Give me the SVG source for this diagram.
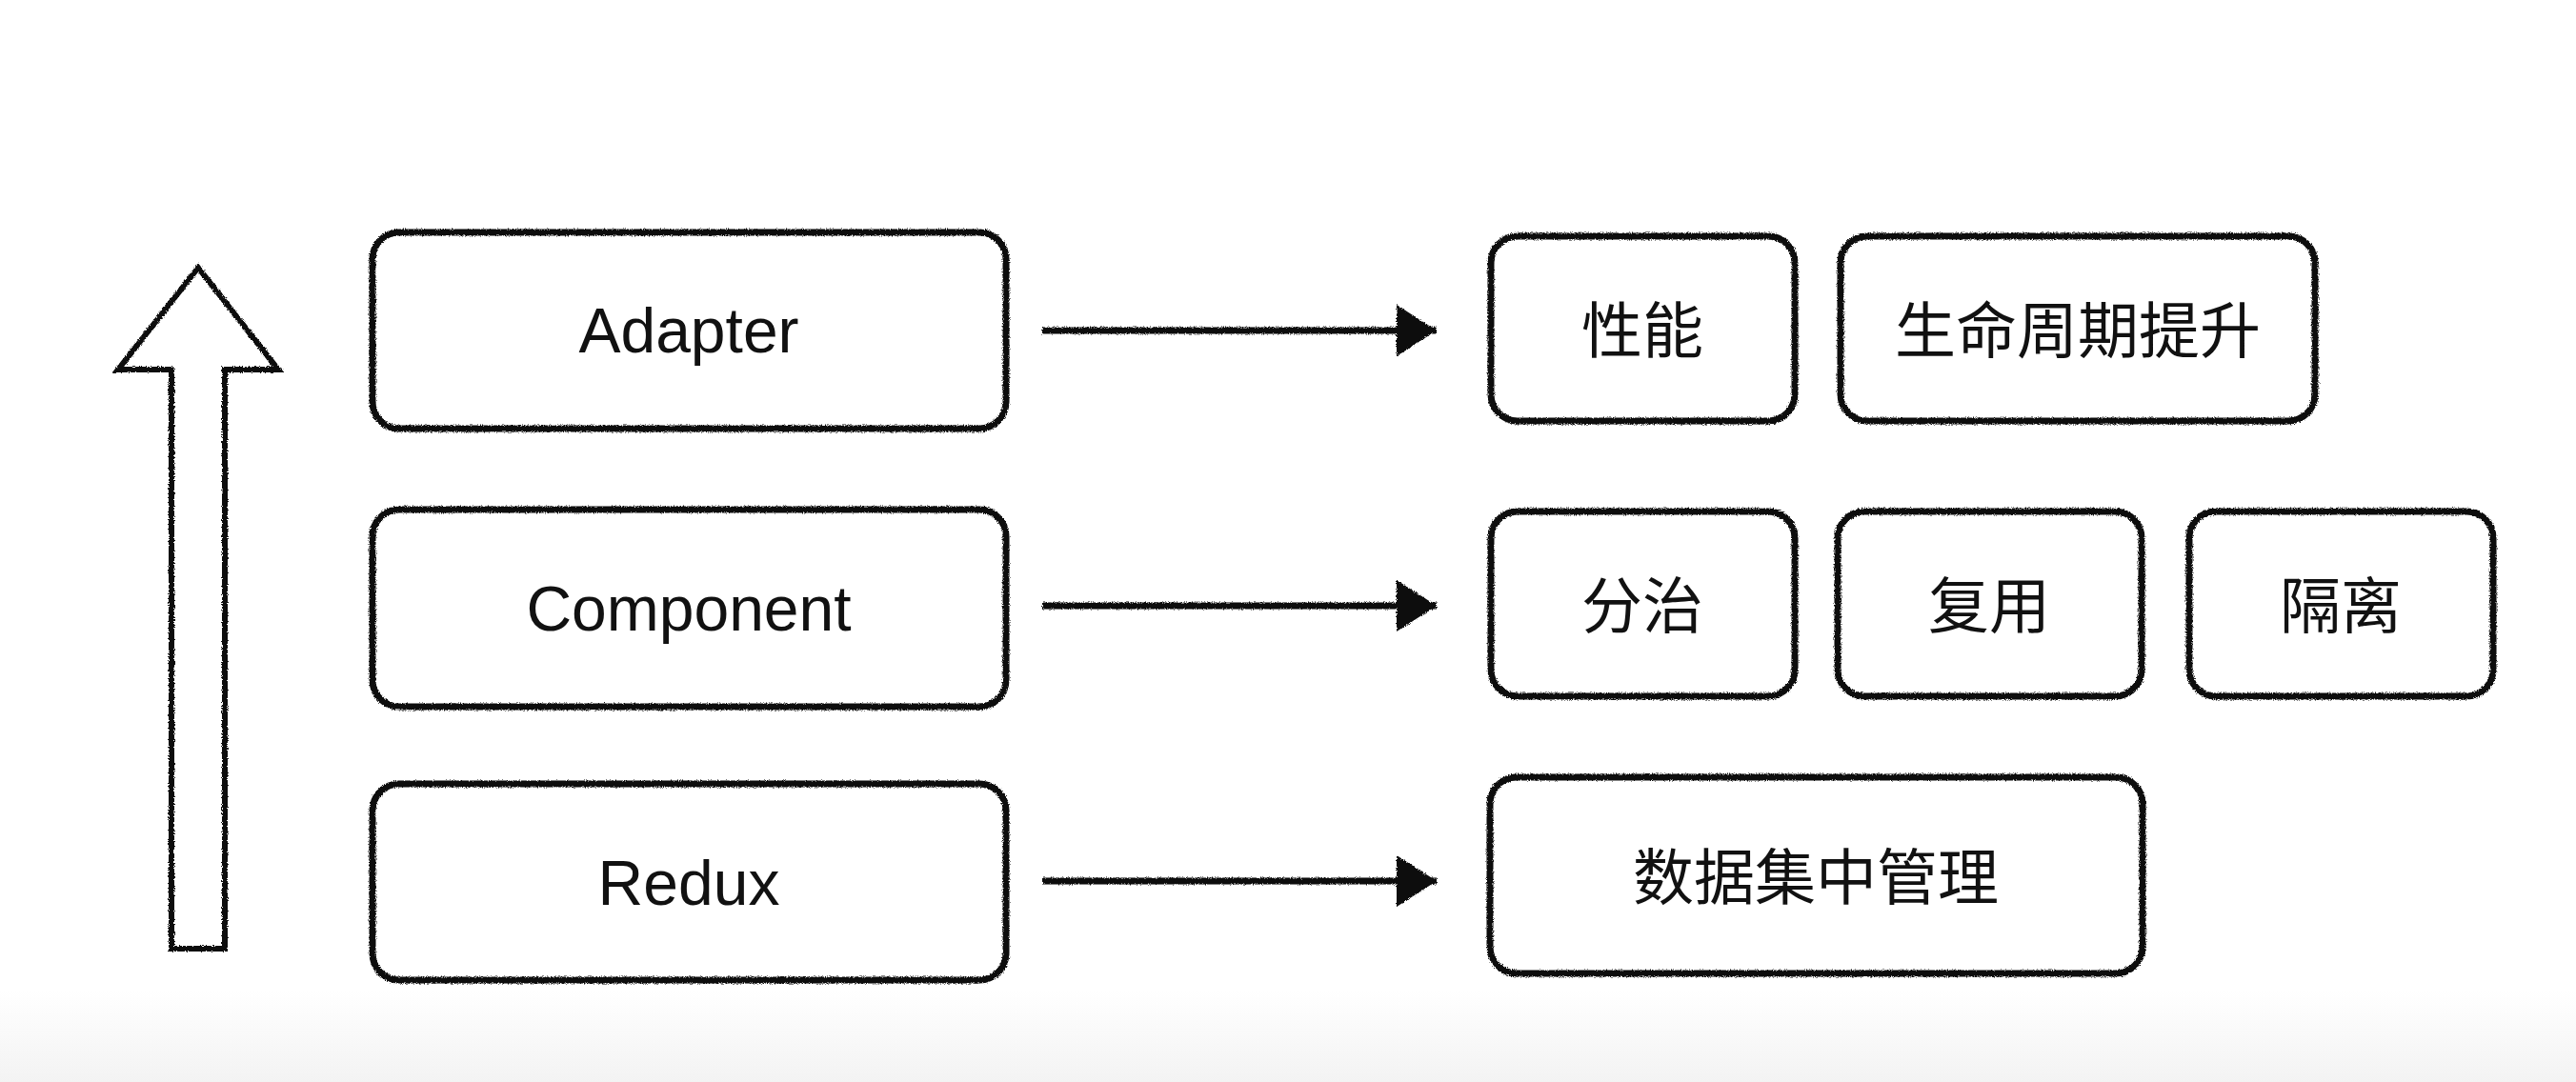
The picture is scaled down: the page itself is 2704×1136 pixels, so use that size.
<svg xmlns="http://www.w3.org/2000/svg" width="2704" height="1136" viewBox="0 0 2704 1136">
  <style>
    .box { fill: #ffffff; stroke: #0d0d0d; stroke-width: 7; filter: url(#rough); }
    .lat { font-family: "Liberation Sans", Arial, sans-serif; font-size: 66px; fill: #111; text-anchor: middle; }
    .cjk { font-family: "Liberation Sans", "Noto Sans CJK SC", sans-serif; font-size: 64px; fill: #111; text-anchor: middle; }
    .link { fill: none; stroke: #0d0d0d; stroke-width: 7; filter: url(#rough); }
    .up { fill: #ffffff; stroke: #0d0d0d; stroke-width: 6; stroke-linejoin: miter; filter: url(#rough); }
  </style>
  <defs>
    <!-- sketchy pencil look for outlines; user-space region so flat lines still render -->
    <filter id="rough" filterUnits="userSpaceOnUse" x="0" y="0" width="2704" height="1136">
      <feTurbulence type="fractalNoise" baseFrequency="0.9" numOctaves="2" seed="3" result="n"/>
      <feDisplacementMap in="SourceGraphic" in2="n" scale="4" xChannelSelector="R" yChannelSelector="G" result="d"/>
      <feGaussianBlur in="d" stdDeviation="0.7"/>
    </filter>
    <marker id="head" markerUnits="userSpaceOnUse" markerWidth="46" markerHeight="60" refX="44" refY="30" orient="auto">
      <path d="M2,3 L44,30 L2,57 Z" fill="#0d0d0d"/>
    </marker>
    <linearGradient id="floor" x1="0" y1="0" x2="0" y2="1">
      <stop offset="0" stop-color="#ffffff"/>
      <stop offset="1" stop-color="#f3f3f3"/>
    </linearGradient>
  </defs>

  <rect width="2704" height="1136" fill="#ffffff"/>
  <rect x="0" y="1040" width="2704" height="96" fill="url(#floor)"/>

  <!-- upward layering arrow -->
  <g id="layer-arrow">
    <path class="up" d="M208,281 L292,388 L236,388 L236,996 L180,996 L180,388 L124,388 Z"/>
  </g>

  <!-- layers -->
  <g id="adapter">
    <rect class="box" x="391" y="244" width="665" height="206" rx="28"/>
    <text class="lat" x="723" y="370">Adapter</text>
  </g>
  <g id="component">
    <rect class="box" x="391" y="535" width="665" height="207" rx="28"/>
    <text class="lat" x="723" y="662">Component</text>
  </g>
  <g id="redux">
    <rect class="box" x="391" y="823" width="665" height="206" rx="28"/>
    <text class="lat" x="723" y="950">Redux</text>
  </g>

  <!-- benefits -->
  <g id="performance">
    <rect class="box" x="1565" y="248" width="319" height="194" rx="28"/>
    <text class="cjk" x="1724" y="370">性能</text>
  </g>
  <g id="lifecycle">
    <rect class="box" x="1932" y="248" width="498" height="194" rx="28"/>
    <text class="cjk" x="2181" y="370">生命周期提升</text>
  </g>
  <g id="divide">
    <rect class="box" x="1565" y="537" width="319" height="194" rx="28"/>
    <text class="cjk" x="1724" y="659">分治</text>
  </g>
  <g id="reuse">
    <rect class="box" x="1929" y="537" width="319" height="194" rx="28"/>
    <text class="cjk" x="2088" y="659">复用</text>
  </g>
  <g id="isolate">
    <rect class="box" x="2298" y="537" width="319" height="194" rx="28"/>
    <text class="cjk" x="2457" y="659">隔离</text>
  </g>
  <g id="store">
    <rect class="box" x="1564" y="816" width="685" height="206" rx="28"/>
    <text class="cjk" x="1906" y="944">数据集中管理</text>
  </g>

  <!-- connectors -->
  <g id="connectors">
    <path class="link" d="M1094,347 L1508,347" marker-end="url(#head)"/>
    <path class="link" d="M1094,636 L1508,636" marker-end="url(#head)"/>
    <path class="link" d="M1094,925 L1508,925" marker-end="url(#head)"/>
  </g>
</svg>
